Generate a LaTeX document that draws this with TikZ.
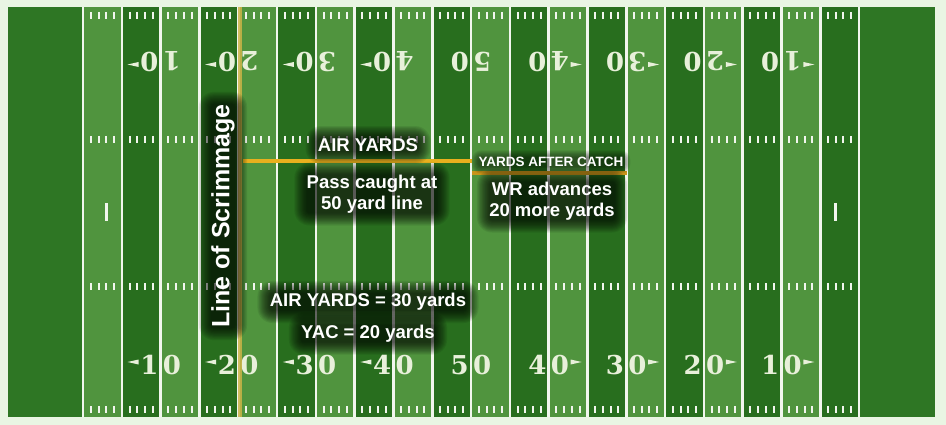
\documentclass[tikz,border=0pt]{standalone}
\usepackage{fontspec}
\setsansfont{Liberation Sans}
\newfontfamily\numfont{DejaVu Serif}
\usetikzlibrary{positioning}

\definecolor{paper}{RGB}{233,245,227}
\definecolor{endzone}{RGB}{46,118,36}
\definecolor{turfdark}{RGB}{40,110,30}
\definecolor{turflight}{RGB}{80,148,62}
\definecolor{chalk}{RGB}{242,246,238}
\definecolor{numchalk}{RGB}{232,240,218}
\definecolor{scrimgold}{RGB}{205,180,72}
\definecolor{airgold}{RGB}{232,176,30}
\definecolor{yacgold}{RGB}{200,148,26}

\pgfdeclarelayer{glow}
\pgfdeclarelayer{top}
\pgfsetlayers{main,glow,top}

% yard number: tag, x, y, rotation, digit one, digit two, arrow side
\newcommand{\yardnum}[7]{%
  \begin{scope}[shift={(#2,#3)}, rotate=#4, transform shape]
    \node[numtxt, anchor=east] (#1a) at (-2,0) {#5};
    \node[numtxt, anchor=west] (#1b) at (2,0) {#6};
    \ifnum#7=0\else
      \fill[numchalk] ({#7*33},-3) -- ({#7*22},-5.5) -- ({#7*22},-0.5) -- cycle;
    \fi
  \end{scope}}

% dark soft glow behind a label
\newcommand{\halo}[3][12]{%
  \foreach \r in {1,...,#1}{
    \pgfmathsetmacro\rr{1.1*\r-2}
    \pgfmathsetmacro\rc{\rr+4}
    \fill[glowfill, rounded corners=\rc pt]
      ([xshift=-\rr pt, yshift=-\rr pt]#2) rectangle ([xshift=\rr pt, yshift=\rr pt]#3);
  }}

\begin{document}
\begin{tikzpicture}[
    x = 1pt, y = -1pt,
    yardline/.style = {draw = chalk, line width = 2.6pt},
    hashmark/.style = {draw = chalk, line width = 2pt},
    numtxt/.style   = {font = \numfont\bfseries\fontsize{26}{26}\selectfont, text = numchalk, inner sep = 0pt},
    lbl/.style      = {font = \sffamily\bfseries\fontsize{18.5}{21}\selectfont,
                       text = white, align = center, inner sep = 1pt},
    yaclbl/.style   = {lbl, font = \sffamily\bfseries\fontsize{13.5}{15}\selectfont},
    scrimlbl/.style = {lbl, font = \sffamily\bfseries\fontsize{25}{25}\selectfont, rotate = 90},
    glowfill/.style = {fill = black, fill opacity = 0.08},
    airline/.style  = {draw = airgold, line width = 4pt},
    yacline/.style  = {draw = yacgold, line width = 3.5pt}
  ]
    \useasboundingbox (0,0) rectangle (946,425);

    % ── Field ────────────────────────────────────────────────────────────────
    \fill[paper] (0,0) rectangle (946,425);
    \fill[endzone] (8,7) rectangle (83,417);
    \fill[endzone] (859,7) rectangle (935,417);
    \foreach \k in {0,2,...,18}
      \fill[turflight] ({83+38.8*\k},7) rectangle ({83+38.8*(\k+1)},417);
    \foreach \k in {1,3,...,19}
      \fill[turfdark] ({83+38.8*\k},7) rectangle ({83+38.8*(\k+1)},417);

    \foreach \k in {0,...,20}
      \draw[yardline] ({83+38.8*\k},7) -- ({83+38.8*\k},417);

    \foreach \j in {1,...,99}{
      \pgfmathtruncatemacro\m{mod(\j,5)}
      \ifnum\m>0
        \foreach \ya/\yb in {12/19, 136/143, 283/290, 406/413}
          \draw[hashmark] ({83+7.76*\j},\ya) -- ({83+7.76*\j},\yb);
      \fi
    }
    \draw[yardline] (106.5,203) -- (106.5,221);
    \draw[yardline] (835.5,203) -- (835.5,221);

    % ── Numbers ──────────────────────────────────────────────────────────────
    \foreach \k/\da/\s [count=\i] in {2/1/-1, 4/2/-1, 6/3/-1, 8/4/-1, 10/5/0,
                                      12/4/1, 14/3/1, 16/2/1, 18/1/1}{
      \yardnum{b\i}{83+38.8*\k}{365}{0}{\da}{0}{\s}
    }
    \foreach \k/\da/\s [count=\i] in {2/1/1, 4/2/1, 6/3/1, 8/4/1, 10/5/0,
                                      12/4/-1, 14/3/-1, 16/2/-1, 18/1/-1}{
      \yardnum{t\i}{83+38.8*\k}{61.5}{180}{\da}{0}{\s}
    }

    % ── Line of scrimmage ────────────────────────────────────────────────────
    \coordinate (losTop) at (240,7);
    \coordinate (losBot) at (240,417);
    \draw[scrimgold, line width = 4.5pt, opacity = 0.85] (losTop) -- (losBot);

    % ── Labels ───────────────────────────────────────────────────────────────
    \begin{pgfonlayer}{top}
      \node[scrimlbl] (scrim)   at (223,216) {Line of Scrimmage};
      \node[lbl]      (air)     at (368,145) {AIR YARDS};
      \node[lbl]      (caught)  at (372,194) {Pass caught at\\50 yard line};
      \node[yaclbl]   (yac)     at (551,162) {YARDS AFTER CATCH};
      \node[lbl]      (wr)      at (552,201) {WR advances\\20 more yards};
      \node[lbl]      (airtot)  at (368,302) {AIR YARDS = 30 yards};
      \node[lbl, below = 12pt of airtot] (yactot) {YAC = 20 yards};
    \end{pgfonlayer}

    \begin{pgfonlayer}{glow}
      \halo{scrim.north west}{scrim.south east}
      \halo{air.south west}{air.north east}
      \halo{caught.south west}{caught.north east}
      \halo[7]{yac.south west}{yac.north east}
      \halo{wr.south west}{wr.north east}
      \halo{airtot.south west}{airtot.north east}
      \halo{yactot.south west}{yactot.north east}
    \end{pgfonlayer}

    % ── Yardage bars ─────────────────────────────────────────────────────────
    \coordinate (airA) at (243,161);
    \coordinate (airB) at (472,161);
    \coordinate (yacB) at (627,173);
    \draw[airline] (airA) -- (airB);
    \draw[yacline] (airB |- yacB) -- (yacB);
  \end{tikzpicture}
\end{document}
